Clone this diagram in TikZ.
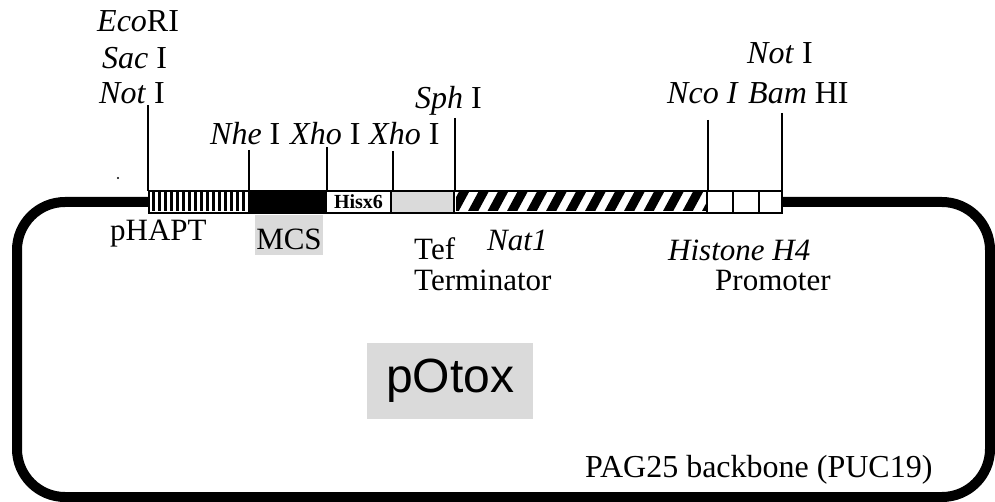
\documentclass[tikz,border=0pt]{standalone}
\usepackage{fontspec}
\setmainfont{Liberation Serif}
\newfontfamily\sansf{Liberation Sans}
\definecolor{lgray}{RGB}{218,218,218}
\begin{document}
\begin{tikzpicture}[x=1pt,y=-1pt,
  lbl/.style={font=\fontsize{32}{34}\selectfont, inner sep=0pt, anchor=base west},
  lblb/.style={font=\fontsize{31}{34}\selectfont, inner sep=0pt, anchor=base west},
  site/.style={line width=2pt},
  segbox/.style={draw, line width=2.5pt, minimum height=22pt, inner sep=0pt, outer sep=0pt, anchor=north west},
  backbone/.style={line width=10pt, rounded corners=48pt}
]
\useasboundingbox (0,0) rectangle (995,502);

% backbone
\draw[backbone] (17,202) rectangle (990,497);

% segments
\node[segbox, fill=white, minimum width=100pt] (phapt) at (149,191) {};
\node[segbox, fill=black, minimum width=77pt] (mcsbox) at (249,191) {};
\node[segbox, fill=white, minimum width=65pt, font=\bfseries\fontsize{20}{22}\selectfont] (his) at (326,191) {Hisx6};
\node[segbox, fill=lgray, minimum width=63pt] (tef) at (391,191) {};
\node[segbox, fill=white, minimum width=253pt] (nat) at (454,191) {};
\node[segbox, fill=white, minimum width=75pt] (h4) at (707,191) {};

% stripes pHAPT
\begin{scope}
  \clip (151,193) rectangle (247,211);
  \foreach \i in {0,...,16} \draw[line width=3pt] (153+\i*6,190) -- (153+\i*6,214);
\end{scope}
% hatch Nat1
\begin{scope}
  \clip (456,193) rectangle (706,211);
  \foreach \i in {-1,...,14} \draw[line width=9pt] (452+\i*19.5,214) -- (465+\i*19.5,190);
\end{scope}
\draw[line width=2.5pt] (nat.north west) -- (nat.south west);
\draw[line width=2.5pt] (nat.north east) -- (nat.south east);
% H4 cells
\draw[line width=2pt] (733,191) -- (733,213);
\draw[line width=2pt] (759,191) -- (759,213);

% restriction site labels
\node[lbl] (eco) at (97,32) {\textit{Eco}RI};
\node[lbl] (sac) at (102,69) {\textit{Sac} I};
\node[lbl] (not1) at (99,104) {\textit{Not} I};
\node[lbl] (nhe) at (210,145) {\textit{Nhe} I};
\node[lbl] (xho1) at (290,145) {\textit{Xho} I};
\node[lbl] (xho2) at (369,145) {\textit{Xho} I};
\node[lbl] (sph) at (415,109) {\textit{Sph} I};
\node[lbl] (not2) at (747,64) {\textit{Not} I};
\node[lbl] (nco) at (667,104) {\textit{Nco I}};
\node[lbl] (bam) at (748,104) {\textit{Bam} HI};

% site lines
\coordinate (tnot) at (148,105);
\coordinate (tnhe) at (249,150);
\coordinate (txho1) at (327,147);
\coordinate (txho2) at (393,151);
\coordinate (tsph) at (455,118);
\coordinate (tnco) at (708,120);
\coordinate (tbam) at (782,113);
\draw[site] (tnot) -- (tnot |- phapt.north);
\draw[site] (tnhe) -- (tnhe |- mcsbox.north);
\draw[site] (txho1) -- (txho1 |- his.north);
\draw[site] (txho2) -- (txho2 |- tef.north);
\draw[site] (tsph) -- (tsph |- nat.north);
\draw[site] (tnco) -- (tnco |- h4.north);
\draw[site] (tbam) -- (tbam |- h4.north);

% stray dot
\fill (118,178) circle (1.2);

% element labels
\node[lblb] (lphapt) at (110,241) {pHAPT};
\node[fill=lgray, minimum width=68pt, minimum height=40pt, inner sep=0pt, anchor=north west] (mcsbg) at (255,215) {};
\node[lblb, anchor=base] (lmcs) at (289,250) {MCS};
\node[lblb] (ltef) at (414,260) {Tef};
\node[lblb] (lterm) at (414,291) {Terminator};
\node[lblb] (lnat) at (487,251) {\textit{Nat1}};
\node[lblb] (lhis) at (668,261) {\textit{Histone H4}};
\node[lblb] (lprom) at (715,291) {Promoter};

% plasmid name
\node[fill=lgray, minimum width=166pt, minimum height=76pt, inner sep=0pt, anchor=north west] (potoxbg) at (367,343) {};
\node[font=\sansf\fontsize{48}{52}\selectfont, inner sep=0pt] (potox) at (potoxbg.center) {pOtox};

\node[lbl] (pag) at (585,477) {PAG25 backbone (PUC19)};
\end{tikzpicture}
\end{document}
